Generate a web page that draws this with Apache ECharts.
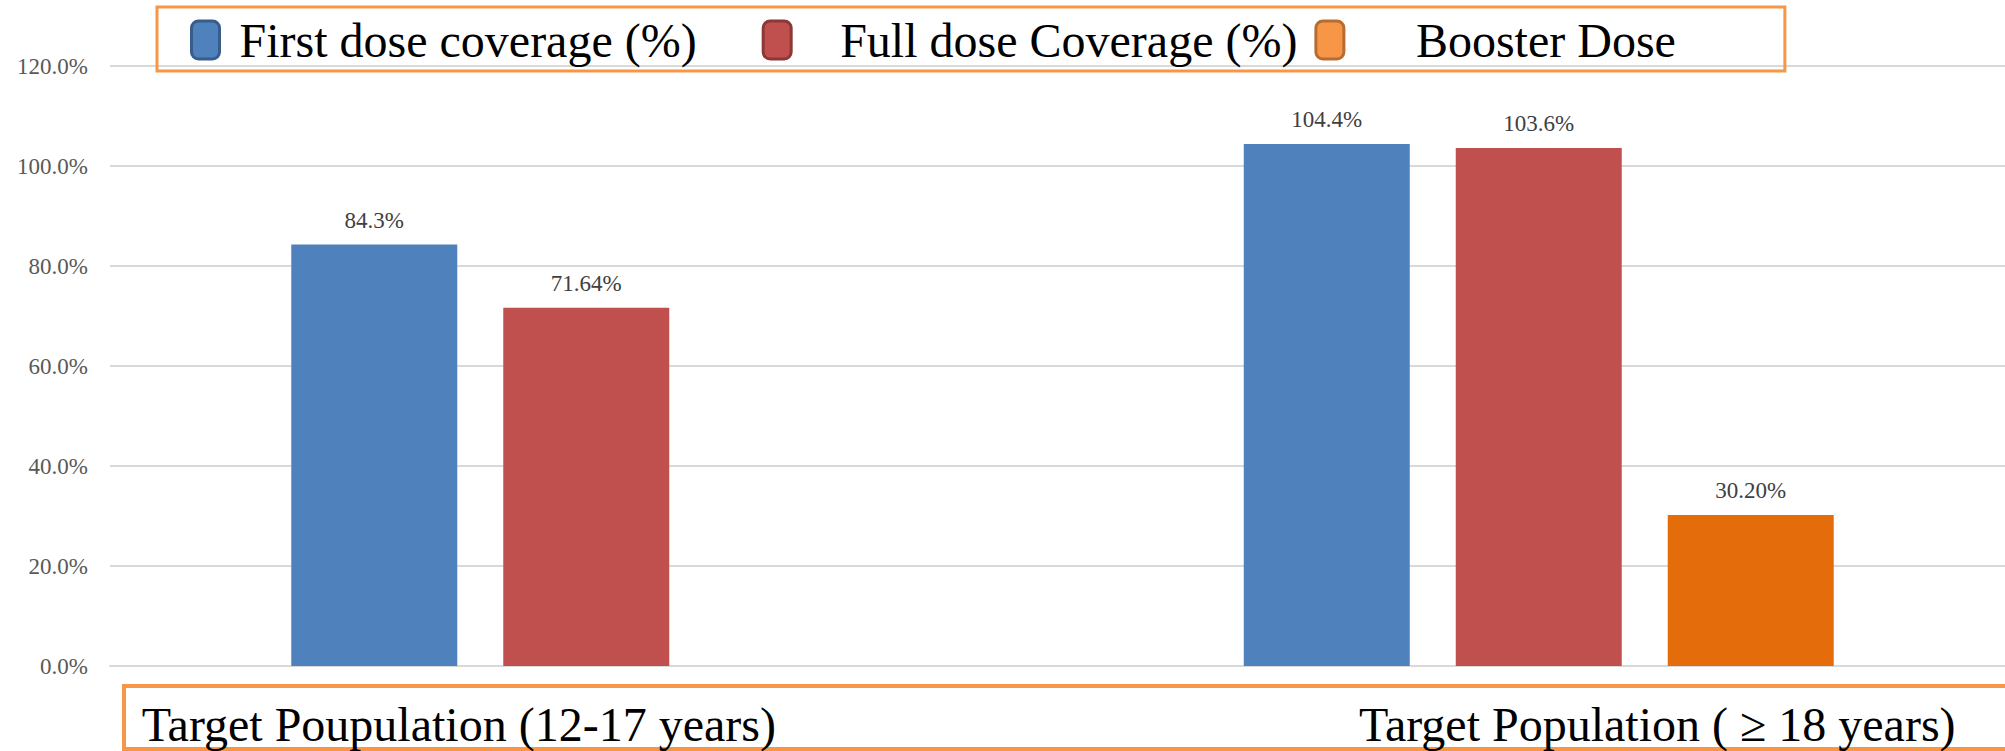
<!DOCTYPE html>
<html lang="en">

<head>
    <meta charset="UTF-8">
    <title>Vaccination coverage</title>
    <script src="https://cdn.jsdelivr.net/npm/echarts@6.0.0/dist/echarts.min.js"></script>
    <style>
        html, body { margin: 0; padding: 0; background: #fff; }
    </style>
</head>

<body>
    <div id="coverageChart" style="width: 2005px; height: 751px;"></div>
    <script>
        // data
        const categories = ['Target Poupulation (12-17 years)', 'Target Population ( \u2265 18 years)'];
        const seriesNames = ['First dose coverage (%)', 'Full dose Coverage (%)', 'Booster Dose'];
        const firstDose = [84.3, 104.4];
        const fullDose = [71.64, 103.6];
        const boosterDose = ['-', 30.2];
        const firstLabels = ['84.3%', '104.4%'];
        const fullLabels = ['71.64%', '103.6%'];
        const boosterLabels = ['', '30.20%'];
        const yTicks = [0, 20, 40, 60, 80, 100, 120];

        const serif = 'Liberation Serif';

        function barLabel(texts) {
            return {
                show: true,
                position: 'top',
                distance: 13,
                color: '#404040',
                fontFamily: serif,
                fontSize: 23,
                formatter: p => texts[p.dataIndex]
            };
        }

        const chart = echarts.init(document.getElementById('coverageChart'), null, { renderer: 'svg' });
        chart.setOption({
            animation: false,
            backgroundColor: '#fff',
            // plot runs a little past the right edge, like the original
            grid: { left: 110, width: 1905, top: 66, bottom: 85, outerBoundsMode: 'none' },
            legend: {
                left: 157,
                top: 7,
                padding: [8, 109, 6, 33],
                itemGap: 0,
                itemWidth: 28,
                itemHeight: 38,
                borderColor: '#F79646',
                borderWidth: 3,
                textStyle: { fontFamily: serif, fontSize: 48, color: '#000', lineHeight: 36 },
                data: [
                    { name: seriesNames[0], icon: 'roundRect',
                      itemStyle: { color: '#4F81BD', borderColor: '#385D8A', borderWidth: 3 },
                      textStyle: { padding: [14, 65, 0, 15] } },
                    { name: seriesNames[1], icon: 'roundRect',
                      itemStyle: { color: '#C0504D', borderColor: '#8C3836', borderWidth: 3 },
                      textStyle: { padding: [14, 17, 0, 44] } },
                    { name: seriesNames[2], icon: 'roundRect',
                      itemStyle: { color: '#F79646', borderColor: '#B66D31', borderWidth: 3 },
                      textStyle: { padding: [14, 0, 0, 67] } }
                ]
            },
            xAxis: {
                type: 'category',
                data: [
                    { value: categories[0], textStyle: { padding: [0, 255, 0, 0] } },
                    { value: categories[1], textStyle: { padding: [0, 0, 0, 237] } }
                ],
                axisLine: { lineStyle: { color: '#D9D9D9', width: 2 } },
                axisTick: { show: false },
                axisLabel: {
                    interval: 0,
                    margin: 34,
                    color: '#000',
                    fontFamily: serif,
                    fontSize: 48
                }
            },
            yAxis: {
                type: 'value',
                min: yTicks[0],
                max: yTicks[yTicks.length - 1],
                interval: yTicks[1] - yTicks[0],
                axisLine: { show: false },
                axisTick: { show: false },
                splitLine: { lineStyle: { color: '#D9D9D9', width: 2 } },
                axisLabel: {
                    margin: 22,
                    color: '#595959',
                    fontFamily: serif,
                    fontSize: 23,
                    formatter: v => v.toFixed(1) + '%'
                }
            },
            series: [
                {
                    name: seriesNames[0],
                    type: 'bar',
                    data: firstDose,
                    barWidth: 166,
                    barGap: '27.7%',
                    itemStyle: { color: '#4F81BD' },
                    label: barLabel(firstLabels)
                },
                {
                    name: seriesNames[1],
                    type: 'bar',
                    data: fullDose,
                    barWidth: 166,
                    barGap: '27.7%',
                    itemStyle: { color: '#C0504D' },
                    label: barLabel(fullLabels)
                },
                {
                    name: seriesNames[2],
                    type: 'bar',
                    data: boosterDose,
                    barWidth: 166,
                    barGap: '27.7%',
                    itemStyle: { color: '#E46C0A' },
                    label: barLabel(boosterLabels)
                }
            ],
            graphic: [
                {
                    // frame around the category labels
                    type: 'rect',
                    silent: true,
                    shape: { x: 124, y: 686, width: 1900, height: 63 },
                    style: { fill: 'none', stroke: '#F79646', lineWidth: 4 }
                }
            ]
        });
    </script>
</body>

</html>
